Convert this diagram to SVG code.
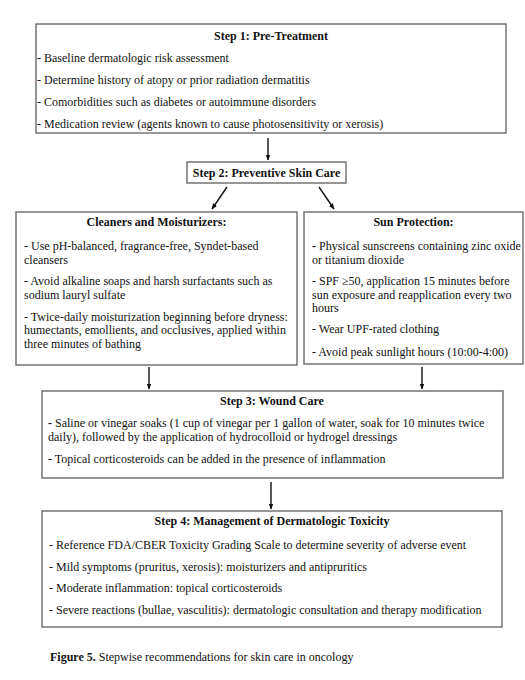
<svg xmlns="http://www.w3.org/2000/svg" width="525" height="680" viewBox="0 0 525 680">
<style>
.box{fill:#fff;stroke:#6a6a6a;stroke-width:1.4}
text{font-family:"Liberation Serif","Times New Roman",serif;font-size:12px;fill:#111}
.t{font-weight:bold;text-anchor:middle}
.c{stroke:#111;stroke-width:1.4;fill:none}
</style>
<defs>
<marker id="ah" viewBox="0 0 10 10" refX="9" refY="5" markerWidth="6" markerHeight="6" orient="auto" markerUnits="userSpaceOnUse">
<path d="M0,1 L10,5 L0,9 Z" fill="#111"/>
</marker>
</defs>
<rect width="525" height="680" fill="#fff"/>
<g id="connectors">
<line class="c" x1="268" y1="138" x2="268" y2="160" marker-end="url(#ah)"/>
<line class="c" x1="227" y1="187" x2="212" y2="209" marker-end="url(#ah)"/>
<line class="c" x1="319" y1="187" x2="334" y2="209" marker-end="url(#ah)"/>
<line class="c" x1="149" y1="367" x2="149" y2="389" marker-end="url(#ah)"/>
<line class="c" x1="422" y1="367" x2="422" y2="389" marker-end="url(#ah)"/>
<line class="c" x1="271" y1="482" x2="271" y2="509" marker-end="url(#ah)"/>
</g>
<g id="step1">
<rect class="box" x="36" y="24" width="470" height="109"/>
<text class="t" x="271" y="40">Step 1: Pre-Treatment</text>
<text x="37" y="62"><tspan font-weight="bold">-</tspan> Baseline dermatologic risk assessment</text>
<text x="37" y="84">- Determine history of atopy or prior radiation dermatitis</text>
<text x="37" y="106">- Comorbidities such as diabetes or autoimmune disorders</text>
<text x="37" y="128">- Medication review (agents known to cause photosensitivity or xerosis)</text>
</g>
<g id="step2">
<rect class="box" x="187" y="162" width="159" height="21"/>
<text class="t" x="266.5" y="177">Step 2: Preventive Skin Care</text>
</g>
<g id="cleaners">
<rect class="box" x="16" y="212" width="281" height="153"/>
<text class="t" x="156.5" y="226">Cleaners and Moisturizers:</text>
<text x="24" y="250">- Use pH-balanced, fragrance-free, Syndet-based</text>
<text x="24" y="264">cleansers</text>
<text x="24" y="285">- Avoid alkaline soaps and harsh surfactants such as</text>
<text x="24" y="299">sodium lauryl sulfate</text>
<text x="24" y="321">- Twice-daily moisturization beginning before dryness:</text>
<text x="24" y="334">humectants, emollients, and occlusives, applied within</text>
<text x="24" y="348">three minutes of bathing</text>
</g>
<g id="sun">
<rect class="box" x="304" y="212" width="219" height="152"/>
<text class="t" x="413.5" y="226">Sun Protection:</text>
<text x="312" y="250"><tspan font-weight="bold">-</tspan> Physical sunscreens containing zinc oxide</text>
<text x="312" y="264">or titanium dioxide</text>
<text x="312" y="285">- SPF ≥50, application 15 minutes before</text>
<text x="312" y="299">sun exposure and reapplication every two</text>
<text x="312" y="312">hours</text>
<text x="312" y="333">- Wear UPF-rated clothing</text>
<text x="312" y="356">- Avoid peak sunlight hours (10:00-4:00)</text>
</g>
<g id="step3">
<rect class="box" x="42" y="391" width="461" height="87"/>
<text class="t" x="272" y="405">Step 3: Wound Care</text>
<text x="48" y="427"><tspan font-weight="bold">-</tspan> Saline or vinegar soaks (1 cup of vinegar per 1 gallon of water, soak for 10 minutes twice</text>
<text x="48" y="441">daily), followed by the application of hydrocolloid or hydrogel dressings</text>
<text x="48" y="463">- Topical corticosteroids can be added in the presence of inflammation</text>
</g>
<g id="step4">
<rect class="box" x="42" y="511" width="460" height="116"/>
<text class="t" x="272" y="525">Step 4: Management of Dermatologic Toxicity</text>
<text x="49" y="549">- Reference FDA/CBER Toxicity Grading Scale to determine severity of adverse event</text>
<text x="49" y="571">- Mild symptoms (pruritus, xerosis): moisturizers and antipruritics</text>
<text x="49" y="592">- Moderate inflammation: topical corticosteroids</text>
<text x="49" y="614">- Severe reactions (bullae, vasculitis): dermatologic consultation and therapy modification</text>
</g>
<g id="caption">
<text x="50" y="661" font-size="11.5"><tspan font-weight="bold">Figure 5.</tspan> Stepwise recommendations for skin care in oncology</text>
</g>
</svg>
